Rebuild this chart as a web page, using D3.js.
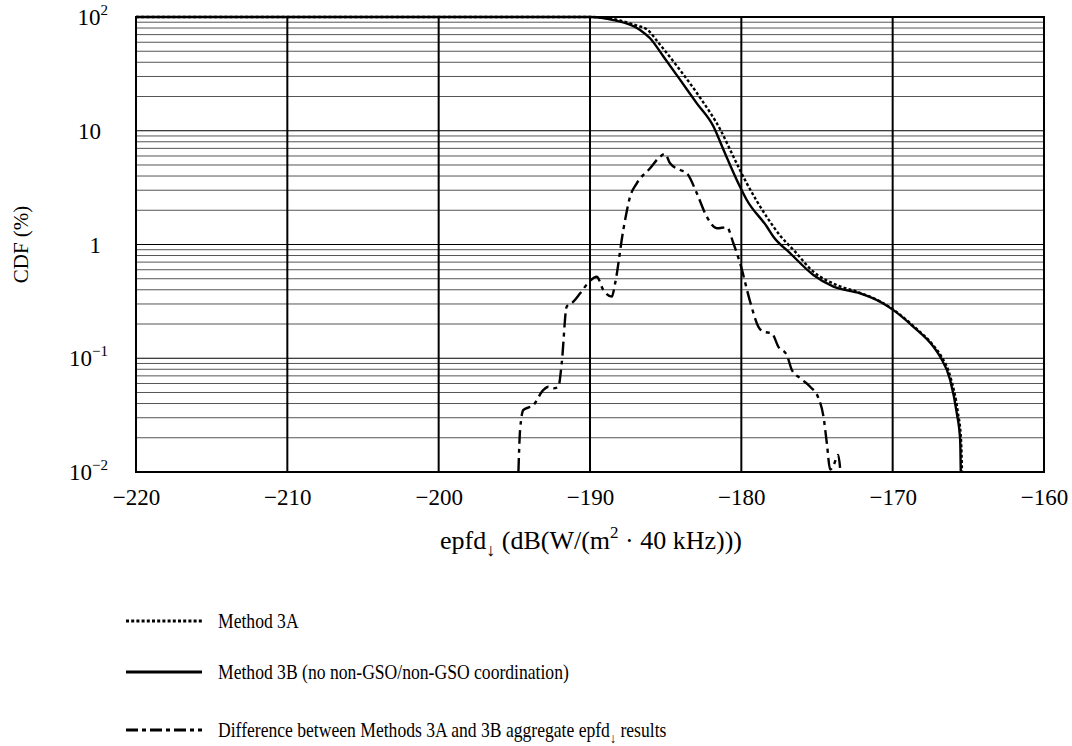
<!DOCTYPE html>
<html>
<head>
<meta charset="utf-8">
<script src="https://cdn.jsdelivr.net/npm/d3@7"></script>
<style>
  html, body { margin: 0; padding: 0; background: #fff; }
  svg { display: block; font-family: "Liberation Serif", "Times New Roman", serif; }
</style>
</head>
<body>
<svg id="chart" width="1072" height="746"></svg>
<script>
// ---- data ----
const xTicks = [-220, -210, -200, -190, -180, -170, -160];
const yTicks = [0.01, 0.1, 1, 10, 100];
const yTickLabels = [["10", "\u22122"], ["10", "\u22121"], ["1", ""], ["10", ""], ["10", "2"]];

const method3B_x = [-220, -190, -188.45, -186.69, -186.03, -185.15, -184.04, -182.94, -181.84, -181.18, -180.08, -179.64, -178.32, -177.88, -176.78, -175.24, -173.91, -172.15, -170.83, -169.95, -168.63, -167.3, -166.86, -166.2, -165.76, -165.54, -165.5];
const method3B_y = [100, 100, 94, 77, 65, 45, 28, 17.4, 10.9, 6.8, 3.2, 2.46, 1.44, 1.17, 0.84, 0.54, 0.426, 0.372, 0.314, 0.265, 0.189, 0.126, 0.103, 0.0644, 0.0328, 0.0191, 0.01];

const method3A_x = [-220, -190, -188.3, -186.9, -186.25, -185.37, -184.04, -182.72, -181.4, -180.52, -179.64, -178.32, -177.44, -176.5, -175.24, -173.7, -172.37, -170.83, -169.95, -168.63, -167.3, -166.8, -166.15, -165.7, -165.48, -165.42];
const method3A_y = [100, 100, 95, 84, 78, 57, 34, 19.5, 10.3, 5.9, 3.45, 1.75, 1.2, 0.88, 0.577, 0.44, 0.385, 0.316, 0.267, 0.192, 0.129, 0.105, 0.066, 0.034, 0.019, 0.01];

const diff_x = [-194.73, -194.62, -194.4, -193.74, -193.08, -192.75, -192.42, -192.09, -191.87, -191.54, -191.1, -190.65, -190.0, -189.56, -189.12, -188.56, -188.34, -187.8, -187.35, -186.91, -186.03, -185.37, -185.04, -184.71, -184.04, -183.6, -182.94, -182.28, -181.62, -180.96, -180.52, -180.08, -179.42, -178.87, -178.54, -177.99, -177.55, -177.0, -176.66, -176.11, -175.45, -174.9, -174.57, -174.35, -174.13, -173.9, -173.6, -173.45];
const diff_y = [0.01, 0.0234, 0.0351, 0.0388, 0.0526, 0.0562, 0.0544, 0.056, 0.09, 0.284, 0.314, 0.372, 0.48, 0.521, 0.398, 0.348, 0.456, 1.34, 2.63, 3.45, 4.68, 5.92, 6.25, 5.17, 4.52, 4.23, 2.82, 1.75, 1.39, 1.42, 1.02, 0.683, 0.315, 0.189, 0.171, 0.166, 0.126, 0.107, 0.0789, 0.0667, 0.0562, 0.0445, 0.0306, 0.0179, 0.0105, 0.0115, 0.0141, 0.01];

const legendLabels = ["Method 3A", "Method 3B (no non-GSO/non-GSO coordination)", "Difference between Methods 3A and 3B aggregate epfd"];

// ---- layout ----
const svg = d3.select("#chart");
const L = 136, R = 1044, T = 17, B = 472;
const x = d3.scaleLinear().domain([-220, -160]).range([L, R]);
const y = d3.scaleLog().domain([0.01, 100]).range([B, T]);
const TICK = 23, SUP = 15, LEG = 20, SQ = 0.88;

// horizontal grid (log minor)
const gridVals = [];
for (let e = -2; e < 2; e++) {
  for (let m = 1; m <= 9; m++) {
    const v = m * Math.pow(10, e);
    if (v > 0.01 && v < 100) gridVals.push(v);
  }
}
svg.append("g").selectAll("line").data(gridVals).join("line")
  .attr("x1", L).attr("x2", R)
  .attr("y1", d => y(d)).attr("y2", d => y(d))
  .attr("stroke", d => (Math.abs(Math.log10(d) - Math.round(Math.log10(d))) < 1e-6) ? "#000" : "#555")
  .attr("stroke-width", 1);

// vertical grid
svg.append("g").selectAll("line").data(xTicks.slice(1, -1)).join("line")
  .attr("x1", d => x(d)).attr("x2", d => x(d))
  .attr("y1", T).attr("y2", B)
  .attr("stroke", "#000").attr("stroke-width", 2);

// frame
svg.append("rect").attr("x", L).attr("y", T).attr("width", R - L).attr("height", B - T)
  .attr("fill", "none").attr("stroke", "#000").attr("stroke-width", 2);

// x axis labels
const xAxis = d3.axisBottom(x).tickValues(xTicks).tickSize(0).tickPadding(17)
  .tickFormat(d3.format("d"));
const gx = svg.append("g").attr("transform", `translate(0,${B})`).call(xAxis);
gx.select(".domain").remove();
gx.selectAll("text").attr("font-size", TICK).attr("font-family", "Liberation Serif").attr("fill", "#000");

// y axis labels with superscripts
const gy = svg.append("g");
yTicks.forEach((v, i) => {
  const [base, exp] = yTickLabels[i];
  const t = gy.append("text")
    .attr("x", exp ? 108 : 101).attr("y", y(v) + 8)
    .attr("text-anchor", "end")
    .attr("font-size", TICK);
  t.append("tspan").text(base);
  if (exp) t.append("tspan").attr("font-size", SUP).attr("dy", -10).text(exp);
});

// axis titles
const xtg = svg.append("g").attr("transform", "translate(591,549)");
const xt = xtg.append("text").attr("text-anchor", "middle").attr("font-size", 26);
xt.append("tspan").text("epfd");
xt.append("tspan").attr("font-size", 18).attr("dy", 7).text("\u2193");
xt.append("tspan").attr("dy", -7).text(" (dB(W/(m");
xt.append("tspan").attr("font-size", 17).attr("dy", -11).text("2");
xt.append("tspan").attr("dy", 11).text(" \u00B7 40 kHz)))");

svg.append("text").attr("transform", `translate(28,${(T + B) / 2}) rotate(-90)`)
  .attr("text-anchor", "middle").attr("font-size", 21).text("CDF (%)");

// lines
const line = d3.line().x(d => x(d[0])).y(d => y(d[1])).curve(d3.curveMonotoneX);
svg.append("clipPath").attr("id", "clip").append("rect")
  .attr("x", L - 2).attr("y", T - 2).attr("width", R - L + 4).attr("height", B - T + 4);
const plot = svg.append("g").attr("clip-path", "url(#clip)");

const series = [
  { xs: method3A_x, ys: method3A_y, dash: "3,2.2", width: 2.4 },
  { xs: method3B_x, ys: method3B_y, dash: null, width: 2.4 },
  { xs: diff_x, ys: diff_y, dash: "14,5,4,5", width: 2.4 }
];
series.forEach(s => {
  plot.append("path")
    .datum(s.xs.map((v, i) => [v, s.ys[i]]))
    .attr("d", line)
    .attr("fill", "none")
    .attr("stroke", "#000")
    .attr("stroke-width", s.width)
    .attr("stroke-dasharray", s.dash);
});

// legend
const legY = [621, 672, 730];
const legDash = ["3,2.2", null, "12,4,4,4"];
series.forEach((s, i) => {
  svg.append("line")
    .attr("x1", 126).attr("x2", 202).attr("y1", legY[i]).attr("y2", legY[i])
    .attr("stroke", "#000").attr("stroke-width", 3)
    .attr("stroke-dasharray", legDash[i]);
  const g = svg.append("g").attr("transform", `translate(218,${legY[i] + 7}) scale(${SQ},1)`);
  const t = g.append("text").attr("font-size", LEG);
  t.append("tspan").text(legendLabels[i]);
  if (i === 2) {
    t.append("tspan").attr("font-size", 14).attr("dy", 6).text("\u2193");
    t.append("tspan").attr("dy", -6).text(" results");
  }
});
</script>
</body>
</html>
